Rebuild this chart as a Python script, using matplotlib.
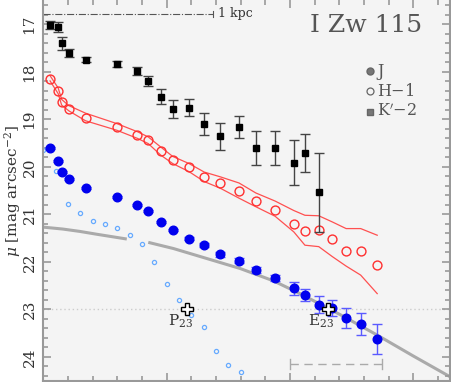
import matplotlib
matplotlib.use("Agg")
import matplotlib.pyplot as plt
from matplotlib.ticker import MultipleLocator

plt.rcParams["font.family"] = "DejaVu Serif"
plt.rcParams["mathtext.fontset"] = "dejavuserif"

# radius positions (arbitrary units)
r = [0.27, 0.60, 0.74, 1.03, 1.71, 2.98, 3.81, 4.25, 4.75, 5.24, 5.90, 6.52,
     7.17, 7.93, 8.61, 9.39, 10.15, 10.60, 11.16, 11.71, 12.27, 12.86, 13.53]

# J band (filled blue)
mu_j = [19.60, 19.88, 20.11, 20.26, 20.44, 20.63, 20.80, 20.93, 21.16, 21.33,
        21.51, 21.65, 21.84, 21.98, 22.17, 22.34, 22.56, 22.70, 22.90, 22.98,
        23.19, 23.31, 23.63]
err_j = [0.02, 0.02, 0.02, 0.02, 0.02, 0.02, 0.02, 0.03, 0.03, 0.03, 0.04, 0.04,
         0.05, 0.05, 0.06, 0.07, 0.13, 0.13, 0.17, 0.17, 0.21, 0.23, 0.32]

# H - 1 (open red) with envelope
mu_h = [18.14, 18.40, 18.64, 18.78, 18.97, 19.16, 19.32, 19.44, 19.67, 19.86,
        20.00, 20.22, 20.35, 20.51, 20.72, 20.91, 21.20, 21.35, 21.33, 21.51,
        21.77, 21.77, 22.06]
h_up = [18.08, 18.34, 18.58, 18.71, 18.87, 19.09, 19.26, 19.37, 19.58, 19.78,
        19.93, 20.11, 20.21, 20.34, 20.55, 20.72, 20.92, 21.02, 21.03, 21.16,
        21.30, 21.30, 21.44]
h_lo = [18.19, 18.46, 18.70, 18.82, 19.03, 19.23, 19.40, 19.51, 19.75, 19.93,
        20.10, 20.31, 20.45, 20.66, 20.84, 21.04, 21.37, 21.65, 21.68, 21.89,
        22.09, 22.28, 22.67]

# K' - 2 (black squares)
r_k = r[:19]
mu_k = [17.01, 17.05, 17.40, 17.60, 17.74, 17.84, 17.98, 18.19, 18.52, 18.79,
        18.75, 19.10, 19.36, 19.16, 19.60, 19.60, 19.91, 19.70, 20.54]
err_k = [0.08, 0.10, 0.13, 0.08, 0.06, 0.06, 0.08, 0.11, 0.15, 0.19, 0.18,
         0.23, 0.29, 0.23, 0.36, 0.36, 0.48, 0.40, 0.84]

# small light-blue open circles
r_s = [0.0, 0.5, 1.0, 1.5, 2.0, 2.5, 3.0, 3.5, 4.0, 4.5, 5.0, 5.5, 6.0, 6.5,
       7.0, 7.5, 8.0]
mu_s = [19.65, 20.08, 20.78, 20.97, 21.14, 21.21, 21.28, 21.43, 21.63, 22.00,
        22.46, 22.80, 23.12, 23.38, 23.87, 24.17, 24.32]

# grey fit curve, two pieces
fit1_r = [0.0, 0.79, 1.48, 2.17, 3.38]
fit1_mu = [21.27, 21.31, 21.36, 21.42, 21.52]
fit2_r = [4.25, 5.27, 6.62, 7.97, 9.32, 10.40, 12.02, 13.52, 14.98, 16.48]
fit2_mu = [21.59, 21.72, 21.93, 22.14, 22.40, 22.67, 23.11, 23.54, 23.98, 24.42]

p23 = (5.83, 23.0)
e23 = (11.55, 23.0)

fig = plt.figure(figsize=(4.52, 3.82), dpi=100)
ax = fig.add_axes([43.4 / 452, 1 / 382, (450 - 43.4) / 452, 381 / 382])
ax.set_facecolor("#f4f4f4")

ax.plot(fit1_r, fit1_mu, color="#aaaaaa", lw=2.2, solid_capstyle="butt", zorder=1)
ax.plot(fit2_r, fit2_mu, color="#aaaaaa", lw=2.2, solid_capstyle="butt", zorder=1)
ax.axhline(23.0, color="#cccccc", lw=1, ls=(0, (1, 2)), zorder=0.5)

ax.plot(r_s, mu_s, "o", ms=3, mfc="none", mec="#66aaff", mew=0.9, zorder=2)

ax.errorbar(r, mu_j, yerr=err_j, fmt="o", ms=6.2, color="#0000ee",
            ecolor="#5a5aff", elinewidth=1, capsize=3.5, zorder=3)

ax.plot(r, h_up, color="#ff5050", lw=0.9, zorder=3)
ax.plot(r, h_lo, color="#ff5050", lw=0.9, zorder=3)
ax.plot(r, mu_h, "o", ms=6.4, mfc="none", mec="#ff3030", mew=1.0, zorder=4)

ax.errorbar(r_k, mu_k, yerr=err_k, fmt="s", ms=5, color="black",
            ecolor="#444444", elinewidth=1, capsize=3.5, zorder=5)

# P23 / E23 markers
for (px, py), lab in [(p23, "P$_{23}$"), (e23, "E$_{23}$")]:
    ax.plot(px, py, "P", ms=9, mfc="white", mec="black", mew=1.0, zorder=6)
    ax.text(px + 0.24, py + 0.07, lab, ha="right", va="top", fontsize=11,
            color="#333333", zorder=6)

# 1 kpc scale bar
ax.plot([0, 6.89], [16.78, 16.78], color="#555555", lw=0.8, ls="-.")
ax.plot([6.89, 6.89], [16.71, 16.85], color="#555555", lw=0.8)
ax.text(7.09, 16.78, "1 kpc", fontsize=9, va="center", ha="left", color="#333333")

# bottom dashed bar
ax.plot([10.0, 13.74], [24.15, 24.15], color="#aaaaaa", lw=1, ls=(0, (6, 4)))
ax.plot([10.0, 10.0], [24.05, 24.26], color="#aaaaaa", lw=1)
ax.plot([13.74, 13.74], [24.05, 24.26], color="#aaaaaa", lw=1)

# title
ax.text(15.36, 17.03, "I Zw 115", fontsize=18, ha="right", va="center",
        color="#555555")

# legend
leg_y = [17.985, 18.413, 18.839]
ax.plot(13.25, leg_y[0], "o", ms=5, color="#777777", mec="#666666")
ax.plot(13.25, leg_y[1], "o", ms=5, mfc="none", mec="#666666", mew=0.9)
ax.plot(13.25, leg_y[2], "s", ms=5, color="#777777", mec="#666666")
for yy, lab in zip(leg_y, ["J", "H$-$1", "K$'$$-$2"]):
    ax.text(13.53, yy, lab, fontsize=11.5, va="center", ha="left", color="#555555")

ax.set_xlim(0, 16.48)
ax.set_ylim(24.51, 16.486)
ax.xaxis.set_major_locator(MultipleLocator(5))
ax.xaxis.set_minor_locator(MultipleLocator(1))
ax.yaxis.set_major_locator(MultipleLocator(1))
ax.yaxis.set_minor_locator(MultipleLocator(0.2))
ax.tick_params(which="both", direction="in", top=True, right=True,
               color="#999999", width=1.2, labelbottom=False)
ax.tick_params(which="major", length=6)
ax.tick_params(which="minor", length=3.5)
ax.tick_params(axis="y", labelrotation=90, labelsize=11, labelcolor="#333333", pad=5)
for lbl in ax.get_yticklabels():
    lbl.set_va("center")
for sp in ax.spines.values():
    sp.set_color("#999999")
    sp.set_linewidth(1.5)
ax.spines["top"].set_visible(False)

ax.set_ylabel("$\\mu$ [mag arcsec$^{-2}$]", fontsize=11, color="#333333",
              va="center")
ax.yaxis.set_label_coords(-0.077, 0.5)

fig.savefig("out.png", dpi=100)
